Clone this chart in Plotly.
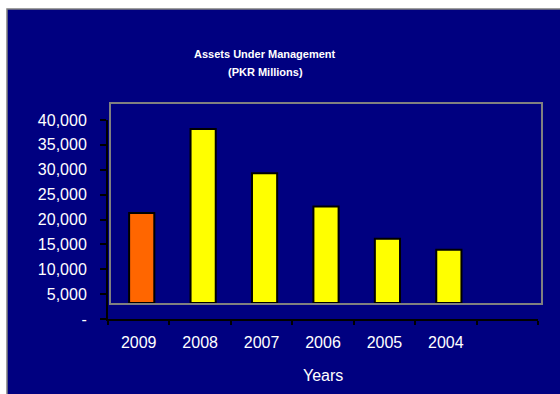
import plotly.graph_objects as go

# Assets under management, PKR millions
years = ["2009", "2008", "2007", "2006", "2005", "2004"]
aum = [18100, 35000, 26100, 19400, 12900, 10700]
bar_colors = ["#FF6600", "#FFFF00", "#FFFF00", "#FFFF00", "#FFFF00", "#FFFF00"]

y_tick_vals = [0, 5000, 10000, 15000, 20000, 25000, 30000, 35000, 40000]
y_tick_text = ["-", "5,000", "10,000", "15,000", "20,000", "25,000", "30,000", "35,000", "40,000"]

W, H = 560, 394
NAVY = "#000080"
n_slots = len(years) + 1  # one empty slot at the right end

def px_x(p):
    return p / W

def px_y(p):
    return (H - p) / H

slot_centres = [i + 0.5 for i in range(len(years))]
slot_edges = list(range(n_slots + 1))

fig = go.Figure()

# empty trace so the front (axis) subplot is drawn
fig.add_trace(go.Scatter(x=[], y=[], xaxis="x", yaxis="y", showlegend=False, hoverinfo="skip"))

# columns sit on the back wall, which is offset from the front axes
fig.add_trace(go.Bar(
    x=slot_centres, y=aum, xaxis="x2", yaxis="y2",
    width=0.41,
    marker=dict(color=bar_colors, line=dict(color="black", width=2)),
    showlegend=False,
))

tick_font = dict(family="Liberation Sans, Arial, sans-serif", size=16, color="white")

fig.update_layout(
    width=W, height=H, autosize=False,
    margin=dict(l=0, r=0, t=0, b=0, pad=0, autoexpand=False),
    paper_bgcolor="white",
    plot_bgcolor=NAVY,
    showlegend=False,
    xaxis=dict(
        domain=[px_x(108), px_x(538)], anchor="y", automargin=False,
        range=[0, n_slots], showgrid=False, zeroline=False,
        showline=True, linecolor="black", linewidth=2,
        tickmode="array", tickvals=slot_centres, ticktext=years,
        ticks="", tickfont=tick_font, ticklabelstandoff=8,
        minor=dict(tickmode="array", tickvals=slot_edges, ticks="outside",
                   ticklen=4, tickcolor="black", tickwidth=1.5),
        fixedrange=True,
    ),
    yaxis=dict(
        domain=[px_y(319), px_y(120)], anchor="x", automargin=False,
        range=[0, 40000], showgrid=False, zeroline=False,
        showline=True, linecolor="black", linewidth=2,
        tickmode="array", tickvals=y_tick_vals, ticktext=y_tick_text,
        ticks="outside", ticklen=6, tickcolor="black", tickwidth=1.5,
        tickfont=tick_font, ticklabelstandoff=10,
        fixedrange=True,
    ),
    xaxis2=dict(
        domain=[px_x(111), px_x(541)], anchor="y2", automargin=False,
        range=[0, n_slots], showgrid=False, zeroline=False,
        showline=True, mirror=True, linecolor="#808080", linewidth=2,
        showticklabels=False, ticks="", fixedrange=True,
    ),
    yaxis2=dict(
        domain=[px_y(303), px_y(104)], anchor="x2", automargin=False,
        range=[0, 40000], showgrid=False, zeroline=False,
        showline=True, mirror=True, linecolor="#808080", linewidth=2,
        showticklabels=False, ticks="", fixedrange=True,
    ),
    shapes=[
        dict(type="rect", xref="paper", yref="paper",
             x0=px_x(7), x1=1.05, y0=-0.05, y1=px_y(9),
             fillcolor=NAVY, line=dict(color="#808080", width=1.5), layer="below"),
    ],
    annotations=[
        dict(text="<b>Assets Under Management</b>", x=px_x(265), y=px_y(53.5),
             xref="paper", yref="paper", xanchor="center", yanchor="middle",
             showarrow=False,
             font=dict(family="Liberation Sans, Arial, sans-serif", size=11, color="white")),
        dict(text="<b>(PKR Millions)</b>", x=px_x(265), y=px_y(72),
             xref="paper", yref="paper", xanchor="center", yanchor="middle",
             showarrow=False,
             font=dict(family="Liberation Sans, Arial, sans-serif", size=11, color="white")),
        dict(text="Years", x=px_x(323), y=px_y(375),
             xref="paper", yref="paper", xanchor="center", yanchor="middle",
             showarrow=False,
             font=dict(family="Liberation Sans, Arial, sans-serif", size=16, color="white")),
    ],
)

fig.write_html("out.html", config={"displayModeBar": False})
